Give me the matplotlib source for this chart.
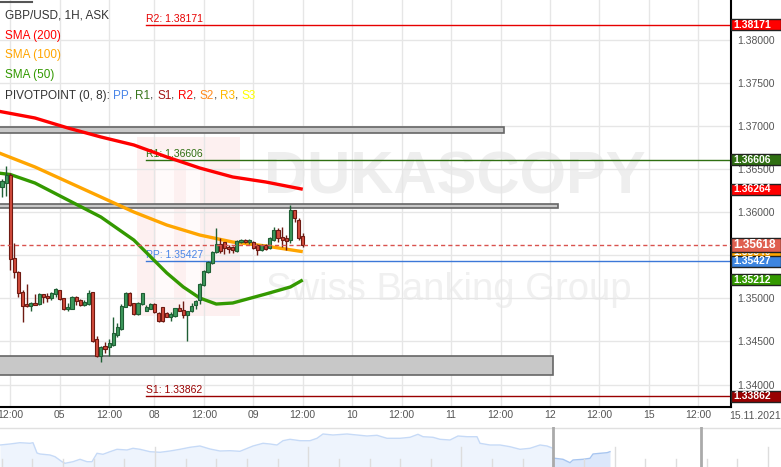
import numpy as np
import matplotlib.pyplot as plt
from matplotlib.patches import Rectangle
from matplotlib.transforms import blended_transform_factory

plt.rcParams['font.family'] = ['Liberation Sans', 'DejaVu Sans']

W, H = 781, 467

# GBP/USD 1H candles, 04.11 10:00 .. 09.11 12:00
opens = [1.36290, 1.36336, 1.36429, 1.35467, 1.35304, 1.35073, 1.34933, 1.34910, 1.34945, 1.34933,
         1.35049, 1.35026, 1.35003, 1.35049, 1.35096, 1.35003, 1.34875, 1.34875, 1.35015, 1.34980,
         1.34922, 1.34933, 1.35073, 1.34528, 1.34330, 1.34446, 1.34435, 1.34458, 1.34574, 1.34644,
         1.34899, 1.35061, 1.34945, 1.34817, 1.34933, 1.34852, 1.34875, 1.34933, 1.34829, 1.34899,
         1.34829, 1.34783, 1.34794, 1.34887, 1.34864, 1.34806, 1.34852, 1.34922, 1.34980, 1.35154,
         1.35304, 1.35409, 1.35536, 1.35629, 1.35652, 1.35594, 1.35594, 1.35548, 1.35652, 1.35675,
         1.35652, 1.35652, 1.35618, 1.35560, 1.35618, 1.35583, 1.35675, 1.35791, 1.35710, 1.35699,
         1.35675, 1.36023, 1.35907, 1.35722]
highs = [1.36383, 1.36533, 1.36452, 1.35641, 1.35316, 1.35096, 1.35165, 1.34957, 1.35049, 1.35061,
         1.35049, 1.35061, 1.35073, 1.35119, 1.35096, 1.35003, 1.34945, 1.35026, 1.35026, 1.34991,
         1.34980, 1.35096, 1.35073, 1.34562, 1.34446, 1.34493, 1.34528, 1.34783, 1.34713, 1.34933,
         1.35073, 1.35073, 1.34945, 1.34957, 1.35061, 1.34922, 1.34945, 1.34945, 1.34841, 1.34899,
         1.34841, 1.34841, 1.34887, 1.34933, 1.34968, 1.34852, 1.34945, 1.34980, 1.35177, 1.35328,
         1.35432, 1.35548, 1.35815, 1.35699, 1.35652, 1.35618, 1.35606, 1.35675, 1.35687, 1.35687,
         1.35687, 1.35664, 1.35629, 1.35629, 1.35629, 1.35710, 1.35826, 1.35815, 1.35826, 1.35733,
         1.36081, 1.36023, 1.35931, 1.35757]
lows = [1.36174, 1.36186, 1.35328, 1.35235, 1.35015, 1.34725, 1.34899, 1.34852, 1.34922, 1.34922,
        1.34945, 1.34957, 1.34980, 1.35015, 1.34980, 1.34864, 1.34852, 1.34875, 1.34922, 1.34910,
        1.34910, 1.34922, 1.34493, 1.34319, 1.34261, 1.34365, 1.34330, 1.34446, 1.34551, 1.34632,
        1.34899, 1.34910, 1.34806, 1.34806, 1.34922, 1.34852, 1.34875, 1.34829, 1.34725, 1.34725,
        1.34783, 1.34736, 1.34783, 1.34852, 1.34771, 1.34504, 1.34841, 1.34875, 1.34933, 1.35142,
        1.35293, 1.35397, 1.35525, 1.35525, 1.35513, 1.35525, 1.35525, 1.35536, 1.35641, 1.35641,
        1.35629, 1.35571, 1.35502, 1.35548, 1.35560, 1.35571, 1.35664, 1.35652, 1.35594, 1.35560,
        1.35641, 1.35884, 1.35675, 1.35595]
closes = [1.36360, 1.36429, 1.35455, 1.35304, 1.35061, 1.34910, 1.34910, 1.34945, 1.34922, 1.35049,
          1.35015, 1.35003, 1.35061, 1.35107, 1.34991, 1.34875, 1.34899, 1.35015, 1.34968, 1.34922,
          1.34957, 1.35061, 1.34504, 1.34330, 1.34435, 1.34412, 1.34481, 1.34597, 1.34667, 1.34910,
          1.35061, 1.34922, 1.34817, 1.34945, 1.35061, 1.34899, 1.34933, 1.34841, 1.34736, 1.34736,
          1.34783, 1.34817, 1.34887, 1.34852, 1.34806, 1.34852, 1.34910, 1.34968, 1.35165, 1.35316,
          1.35420, 1.35536, 1.35629, 1.35548, 1.35583, 1.35571, 1.35560, 1.35664, 1.35675, 1.35652,
          1.35675, 1.35583, 1.35560, 1.35618, 1.35571, 1.35699, 1.35791, 1.35699, 1.35675, 1.35664,
          1.36023, 1.35931, 1.35699, 1.35618]

# moving averages (sampled at candle index)
sma200_idx = [-1, 8, 16, 24, 32, 40, 48, 56, 64, 73]
sma200 = [1.37170, 1.37090, 1.36974, 1.36870, 1.36777, 1.36638, 1.36510, 1.36406, 1.36348, 1.36264]
sma100_idx = [-1, 8, 16, 24, 32, 40, 48, 56, 64, 73]
sma100 = [1.36690, 1.36522, 1.36348, 1.36174, 1.36000, 1.35849, 1.35733, 1.35652, 1.35606, 1.35540]
sma50_idx = [-1, 2, 8, 16, 24, 32, 40, 44, 48, 52, 56, 64, 70, 73]
sma50 = [1.36452, 1.36435, 1.36336, 1.36139, 1.35942, 1.35675, 1.35293, 1.35131, 1.35003, 1.34933,
         1.34945, 1.35049, 1.35131, 1.35212]

# pivot points
pivots = {'R2': 1.38171, 'R1': 1.36606, 'PP': 1.35427, 'S1': 1.33862}
pivot_colors = {'R2': '#e60000', 'R1': '#2f6f12', 'PP': '#3c78d8', 'S1': '#990000'}
pivot_start = 35
last_price = 1.35618

# grey zones (bottom, top, end index)
zones = [(1.36916, 1.36991, 121.8), (1.36050, 1.36093, 135.0), (1.34110, 1.34331, 133.7)]

tick_pos = [2, 14, 26, 37, 49, 61, 73, 85, 97, 109, 121, 133, 145, 157, 169]
tick_lab = ['12:00', '05', '12:00', '08', '12:00', '09', '12:00', '10', '12:00', '11',
            '12:00', '12', '12:00', '15', '12:00']

# navigator (overview) series
nav_x = [0, 10, 20, 30, 33, 37, 40, 50, 55, 62, 65, 73, 80, 87, 92, 97, 103, 110, 117, 127,
         133, 140, 150, 160, 170, 180, 190, 200, 210, 220, 230, 240, 253, 263, 270, 277, 283,
         290, 300, 310, 317, 323, 333, 347, 357, 367, 377, 387, 400, 410, 418, 423, 433, 440,
         450, 458, 467, 477, 480, 490, 500, 510, 520, 530, 540, 547, 553]
nav_v = [22, 23, 24.3, 23.7, 24.3, 14, 13, 12, 10.3, 5.3, 3.7, 5.3, 7.7, 5.3, 5.3, 13.7, 12.7,
         15.3, 17.7, 17, 18.7, 17.7, 15.3, 14.7, 16, 17.7, 19.7, 21, 18, 16, 16.3, 15.7, 21, 23.7,
         23, 22, 26.3, 27.7, 26.3, 26.3, 28.7, 33, 32, 33, 32, 31, 31.7, 28.7, 28.7, 29.7, 32.7,
         30.3, 29.7, 27.7, 27, 31, 30.3, 30.3, 23.7, 22, 22, 20.3, 17.7, 18.7, 22, 21, 18.7]
sel_x = [553, 555, 563, 570, 573, 583, 590, 593, 600, 607, 610]
sel_v = [8.7, 8.7, 7.7, 4.3, 7, 7.7, 8.7, 13, 13.7, 14.3, 15.3]

fig = plt.figure(figsize=(W / 100, H / 100), dpi=100)
ax = fig.add_axes([0, 60 / H, 731 / W, 407 / H])

px_per_i = 4.12
ax.set_xlim(-2 / px_per_i, 729 / px_per_i)
ylo = 1.38458 - 0.00011594 * 407
ax.set_ylim(ylo, 1.38458)

ax.set_axisbelow(True)
ax.grid(True, color='#e6e6e6', lw=1)
ax.set_xticks(tick_pos)
ax.set_xticklabels(tick_lab)
yt = np.arange(1.34, 1.38001, 0.005)
ax.set_yticks(yt)
ax.set_yticklabels([f'{v:.5f}' for v in yt])
ax.yaxis.tick_right()
ax.tick_params(axis='both', length=0, labelsize=7.5, colors='#555555')
ax.tick_params(axis='y', pad=4.5)
ax.tick_params(axis='x', pad=2.5)
for s in ['left', 'top']:
    ax.spines[s].set_visible(False)
for s in ['right', 'bottom']:
    ax.spines[s].set_color('black')
    ax.spines[s].set_linewidth(1.5)

# watermark
ax.add_patch(Rectangle((137 / 731, 1 - 316 / 407), 103 / 731, 179 / 407, transform=ax.transAxes,
                       color='#fdf0f0', lw=0, zorder=0.2))
ax.add_patch(Rectangle((156 / 731, 1 - 300 / 407), 18 / 731, 150 / 407, transform=ax.transAxes,
                       color='#fffafa', lw=0, zorder=0.21))
ax.add_patch(Rectangle((186 / 731, 1 - 300 / 407), 14 / 731, 150 / 407, transform=ax.transAxes,
                       color='#fffafa', lw=0, zorder=0.21))
ax.text(455 / 731, 1 - 178 / 407, 'DUKASCOPY', transform=ax.transAxes, ha='center', va='center',
        fontsize=43, fontweight='bold', color='#eeeeee', zorder=0.2)
ax.text(449 / 731, 1 - 290 / 407, 'Swiss Banking Group', transform=ax.transAxes, ha='center',
        va='center', fontsize=27.5, color='#f0f0f0', zorder=0.2)

# grey zones
for lo, hi, end in zones:
    ax.add_patch(Rectangle((-5, lo), end + 5, hi - lo, facecolor='#c8c8c8', edgecolor='#666666',
                           lw=1.2, zorder=1.5))

# pivot lines
for name, val in pivots.items():
    c = pivot_colors[name]
    ax.plot([pivot_start, 200], [val, val], color=c, lw=1, zorder=2)
    ax.annotate(f'{name}: {val:.5f}', (pivot_start, val), xytext=(0, 0.8), textcoords='offset points',
                color=c if name != 'PP' else '#4a86e8', fontsize=7.5, va='bottom', ha='left', zorder=2)

# moving averages
ax.plot(sma200_idx, sma200, color='#ff0000', lw=2.4, zorder=3, solid_capstyle='butt')
ax.plot(sma100_idx, sma100, color='#ffa500', lw=2.4, zorder=3, solid_capstyle='butt')
ax.plot(sma50_idx, sma50, color='#339900', lw=2.4, zorder=3, solid_capstyle='butt')

# candles
x = np.arange(len(opens))
o = np.array(opens)
c = np.array(closes)
up = c >= o
body_lo = np.minimum(o, c)
body_h = np.maximum(np.abs(c - o), 0.00004)
ax.vlines(x[up], np.array(lows)[up], np.array(highs)[up], color='#1f5e34', lw=1, zorder=4)
ax.vlines(x[~up], np.array(lows)[~up], np.array(highs)[~up], color='#6e1a12', lw=1, zorder=4)
ax.bar(x[up], body_h[up], bottom=body_lo[up], width=0.75, color='#3d995c', edgecolor='#1f5e34',
       lw=0.8, zorder=4.5)
ax.bar(x[~up], body_h[~up], bottom=body_lo[~up], width=0.75, color='#d24b3c', edgecolor='#6e1a12',
       lw=0.8, zorder=4.5)

# last price
ax.axhline(last_price, color='#d9534f', lw=1, dashes=(3, 2.2), zorder=5)

# right-hand value boxes
tr = blended_transform_factory(ax.transAxes, ax.transData)
px = 0.00011594
boxes = [(pivots['R2'], '#ff0000', 11, 7.5), (pivots['R1'], '#2f6f12', 11, 7.5),
         (sma200[-1], '#ff0000', 11, 7.5), (sma100[-1], '#ffa500', 11, 7.5),
         (last_price, '#df5f4f', 14, 8.5), (pivots['PP'], '#3d85e0', 11, 7.5),
         (sma50[-1], '#339900', 11, 7.5), (pivots['S1'], '#990000', 11, 7.5)]
for k, (val, col, hpx, fs) in enumerate(boxes):
    ax.add_patch(Rectangle((1.0, val - hpx * px / 2), 50 / 731, hpx * px, transform=tr,
                           facecolor=col, edgecolor='#222222', lw=1, clip_on=False, zorder=6 + k * 0.1))
    ax.text(733 / 731, val, f'{val:.5f}', transform=tr, color='white', fontsize=fs,
            fontweight='bold', va='center', ha='left', clip_on=False, zorder=6.05 + k * 0.1)

fig.text(755 / W, 1 - 416 / H, '15.11.2021', color='#555555', fontsize=7.5, ha='center', va='center')

# legend texts
def fy(py):
    return 1 - py / H

fig.text(5 / W, fy(15), 'GBP/USD, 1H, ASK', color='#333333', fontsize=8.5, va='center')
fig.text(5 / W, fy(36), 'SMA (200)', color='#ff0000', fontsize=8.5, va='center')
fig.text(5 / W, fy(55), 'SMA (100)', color='#ffa500', fontsize=8.5, va='center')
fig.text(5 / W, fy(75), 'SMA (50)', color='#339900', fontsize=8.5, va='center')
prev = fig.text(5 / W, fy(96), 'PIVOTPOINT (0, 8): ', color='#333333', fontsize=8.5, va='center')
pieces = [('PP', '#4a86e8'), (', ', '#333333'), ('R1', '#38761d'), (', ', '#333333'),
          ('S1', '#a31515'), (', ', '#333333'), ('R2', '#ff0000'), (', ', '#333333'),
          ('S2', '#ff8a1f'), (', ', '#333333'), ('R3', '#ffb800'), (', ', '#333333'),
          ('S3', '#ffff00')]
for s, col in pieces:
    prev = ax.annotate(s, xy=(1, 0), xycoords=prev, va='bottom', ha='left', color=col,
                       fontsize=8.5, annotation_clip=False)
fig.add_artist(plt.Line2D([0, 32 / W], [fy(2), fy(2)], color='#555555', lw=1.5))

# navigator
nav = fig.add_axes([0, 0, 1, 40 / H])
nav.set_xlim(0, W)
nav.set_ylim(0, 40)
nav.axis('off')
nav.fill_between(nav_x, nav_v, 0, color='#eef4fd', lw=0)
nav.plot(nav_x, nav_v, color='#c6daf7', lw=1)
nav.fill_between(sel_x, sel_v, 0, color='#dce8fb', lw=0)
nav.plot(sel_x, sel_v, color='#a7c5f0', lw=1)
for k, tx in enumerate(np.arange(1.7, W, 30.65)):
    tall = k >= 5 and k % 5 == 0
    nav.plot([tx, tx], [0, 20 if tall else 8], color='#dddddd', lw=1)
nav.plot([0, W], [39.5, 39.5], color='#e0e0e0', lw=1)
for hx in [553, 701]:
    nav.plot([hx, hx], [0, 40], color='#aaaaaa', lw=2)

fig.savefig('out.png', dpi=100)
